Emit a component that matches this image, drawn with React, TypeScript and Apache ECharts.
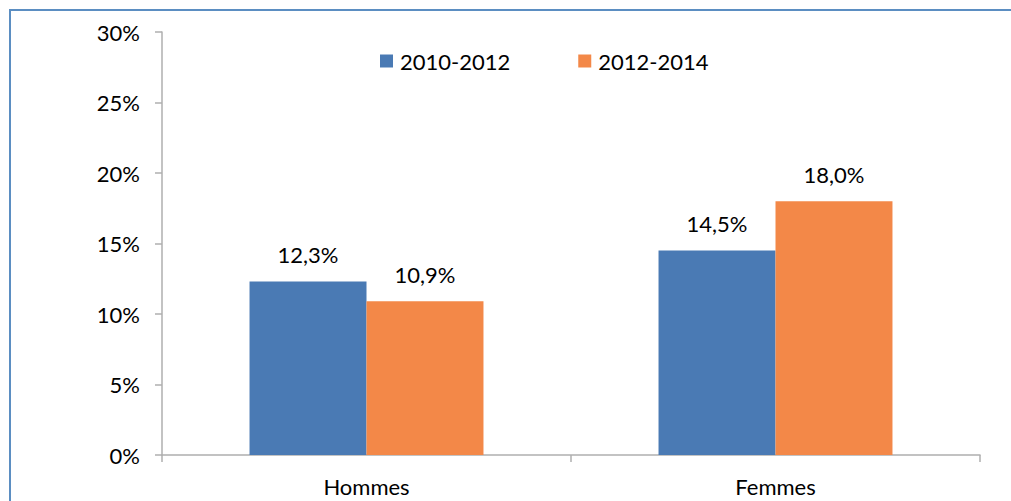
import React, { useEffect, useRef } from "react";
import * as echarts from "echarts";

const categories = ["Hommes", "Femmes"];
const seriesNames = ["2010-2012", "2012-2014"];
const values2010 = [12.3, 14.5];
const values2012 = [10.9, 18.0];
const colors = ["#4A7AB4", "#F38848"];

const fmt = (v: number) => v.toFixed(1).replace(".", ",") + "%";

export default function App() {
  const ref = useRef<HTMLDivElement>(null);
  useEffect(() => {
    const chart = echarts.init(ref.current!, null, { renderer: "svg" });
    const font = "Lato";
    const fs = 22;
    const label = {
      show: true,
      position: "top",
      distance: 16,
      fontFamily: font,
      fontSize: fs,
      color: "#000",
      formatter: (p: any) => fmt(p.value),
    };
    chart.setOption({
      animation: false,
      backgroundColor: "#fff",
      textStyle: { fontFamily: font },
      graphic: [
        {
          type: "rect",
          shape: { x: 10, y: 10, width: 1200, height: 700 },
          style: { fill: "none", stroke: "#5B8EC2", lineWidth: 2 },
          silent: true,
        },
      ],
      legend: {
        left: 380,
        top: 50,
        padding: 0,
        itemWidth: 13,
        itemHeight: 13,
        itemGap: 68,
        icon: "rect",
        textStyle: { fontFamily: font, fontSize: fs, color: "#000", padding: [0, 0, 0, 2] },
        data: seriesNames,
      },
      grid: { left: 162, right: 31, top: 32, bottom: 46, containLabel: false },
      xAxis: {
        type: "category",
        data: categories,
        axisLine: { lineStyle: { color: "#AFAFAF", width: 1.5 } },
        axisTick: { show: true, length: 7, lineStyle: { color: "#AFAFAF", width: 1.5 } },
        axisLabel: { fontFamily: font, fontSize: fs, color: "#000", margin: 20 },
      },
      yAxis: {
        type: "value",
        min: 0,
        max: 30,
        interval: 5,
        axisLine: { show: true, lineStyle: { color: "#AFAFAF", width: 1.5 } },
        axisTick: { show: true, length: 7, lineStyle: { color: "#AFAFAF", width: 1.5 } },
        splitLine: { show: false },
        axisLabel: {
          fontFamily: font,
          fontSize: fs,
          color: "#000",
          margin: 22,
          formatter: (v: number) => v + "%",
        },
      },
      series: [
        {
          name: seriesNames[0],
          type: "bar",
          data: values2010,
          itemStyle: { color: colors[0] },
          barGap: "0%",
          barCategoryGap: "42.8%",
          label,
        },
        {
          name: seriesNames[1],
          type: "bar",
          data: values2012,
          itemStyle: { color: colors[1] },
          barGap: "0%",
          barCategoryGap: "42.8%",
          label,
        },
      ],
    });
    return () => chart.dispose();
  }, []);
  return (
    <div
      ref={ref}
      style={{ position: "fixed", left: 0, top: 0, width: 1011, height: 501 }}
    />
  );
}
